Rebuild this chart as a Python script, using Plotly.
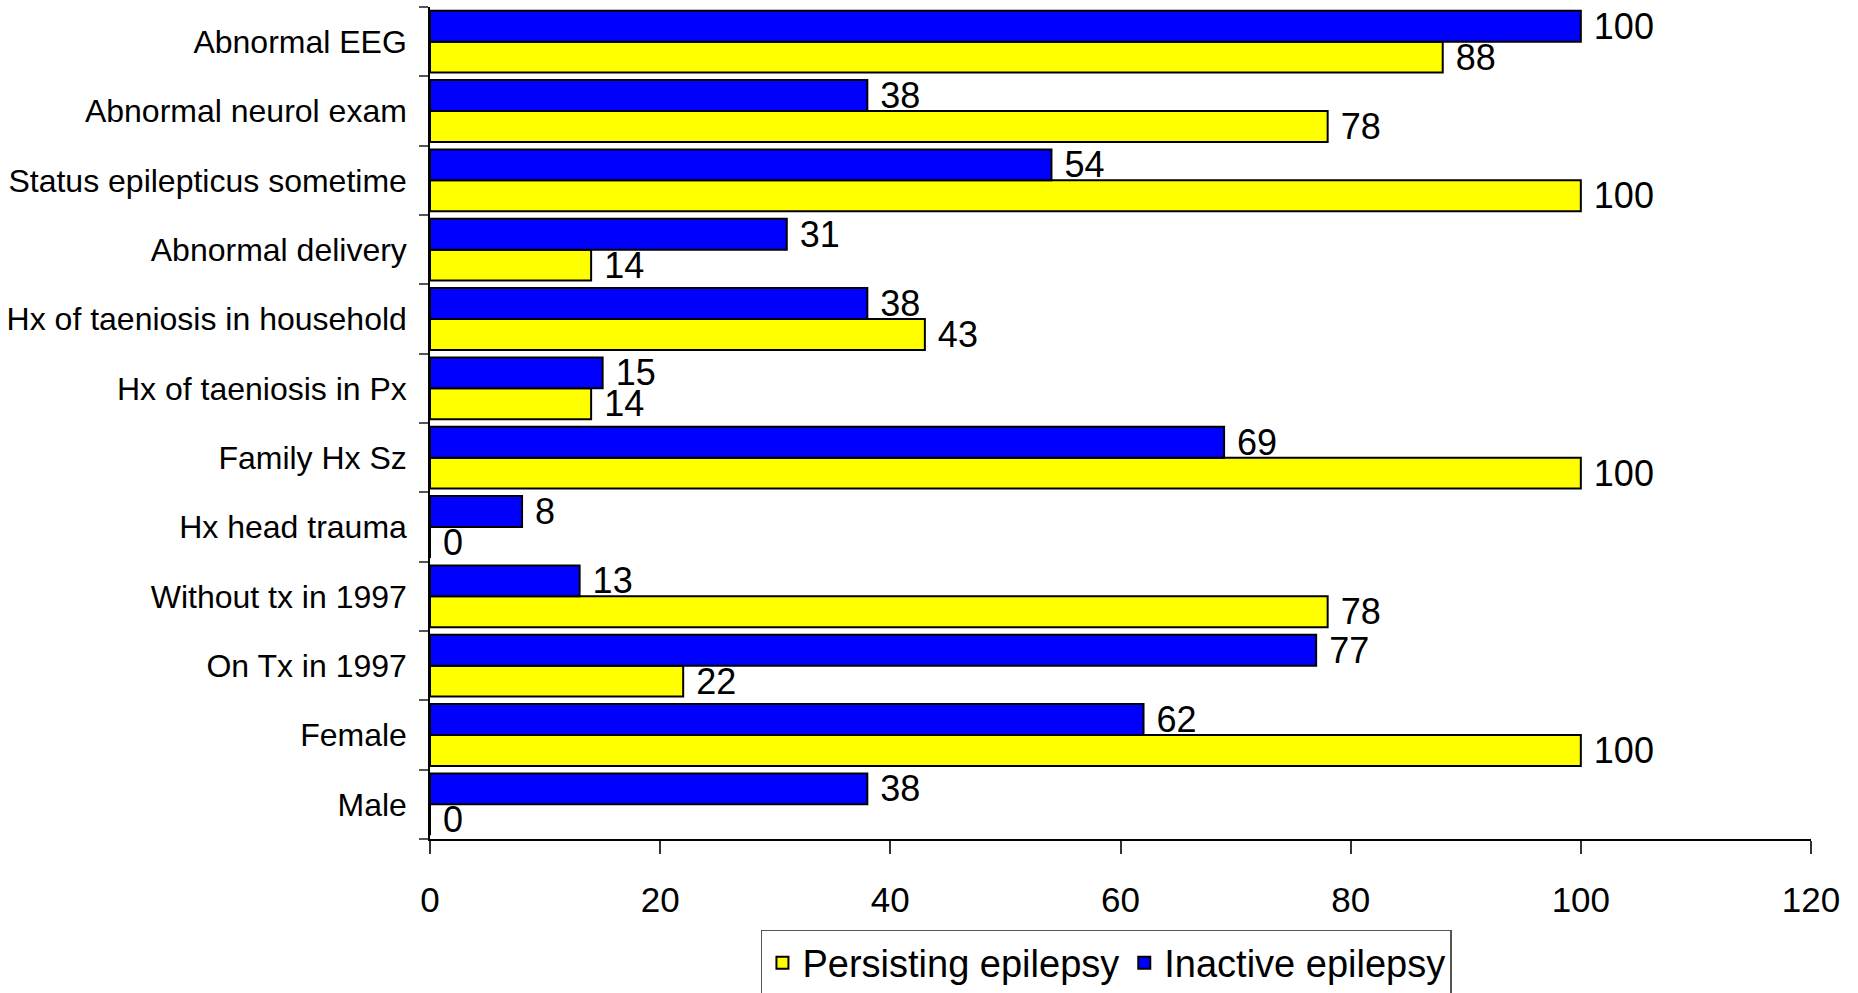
import plotly.graph_objects as go

# Risk factors, listed top to bottom as they appear on the chart
categories = [
    "Abnormal EEG",
    "Abnormal neurol exam",
    "Status epilepticus sometime",
    "Abnormal delivery",
    "Hx of taeniosis in household",
    "Hx of taeniosis in Px",
    "Family Hx Sz",
    "Hx head trauma",
    "Without tx in 1997",
    "On Tx in 1997",
    "Female",
    "Male",
]
persisting = [88, 78, 100, 14, 43, 14, 100, 0, 78, 22, 100, 0]
inactive = [100, 38, 54, 31, 38, 15, 69, 8, 13, 77, 62, 38]

x_ticks = [0, 20, 40, 60, 80, 100, 120]

FONT = "Liberation Sans, Arial, sans-serif"

fig = go.Figure()
fig.add_trace(go.Bar(
    name="Persisting epilepsy",
    y=categories, x=persisting, orientation="h",
    marker=dict(color="#FFFF00", line=dict(color="#000000", width=2)),
    text=persisting, texttemplate=" %{x}", textposition="outside",
    textfont=dict(family=FONT, size=36, color="#000000"),
    constraintext="none", cliponaxis=False,
))
fig.add_trace(go.Bar(
    name="Inactive epilepsy",
    y=categories, x=inactive, orientation="h",
    marker=dict(color="#0000FF", line=dict(color="#000000", width=2)),
    text=inactive, texttemplate=" %{x}", textposition="outside",
    textfont=dict(family=FONT, size=36, color="#000000"),
    constraintext="none", cliponaxis=False,
))

fig.update_layout(
    width=1858, height=993,
    margin=dict(l=430, r=47, t=7, b=154),
    paper_bgcolor="#FFFFFF", plot_bgcolor="#FFFFFF",
    barmode="group", bargap=0.107, bargroupgap=0,
    font=dict(family=FONT, size=32, color="#000000"),
    showlegend=True,
    legend=dict(
        orientation="h",
        xref="container", x=0.5955, xanchor="center",
        yref="container", y=0.0635, yanchor="top",
        bordercolor="#555555", borderwidth=1.5, bgcolor="#FFFFFF",
        font=dict(family=FONT, size=38, color="#000000"),
        traceorder="normal",
    ),
)

fig.update_xaxes(
    range=[0, 120], tickvals=x_ticks, ticktext=[str(v) for v in x_ticks],
    showgrid=False, zeroline=False,
    showline=True, linecolor="#000000", linewidth=1.5,
    ticks="outside", ticklen=13, tickcolor="#333333", tickwidth=1.5,
    tickfont=dict(family=FONT, size=35, color="#000000"),
    ticklabelstandoff=16,
)
fig.update_yaxes(
    type="category", categoryorder="array", categoryarray=categories[::-1],
    showgrid=False, zeroline=False,
    showline=True, linecolor="#000000", linewidth=1.5,
    ticks="outside", ticklen=9, tickcolor="#555555", tickwidth=1.5,
    tickson="boundaries",
    tickfont=dict(family=FONT, size=32, color="#000000"),
    ticklabelstandoff=15,
)

fig.write_html("out.html")
